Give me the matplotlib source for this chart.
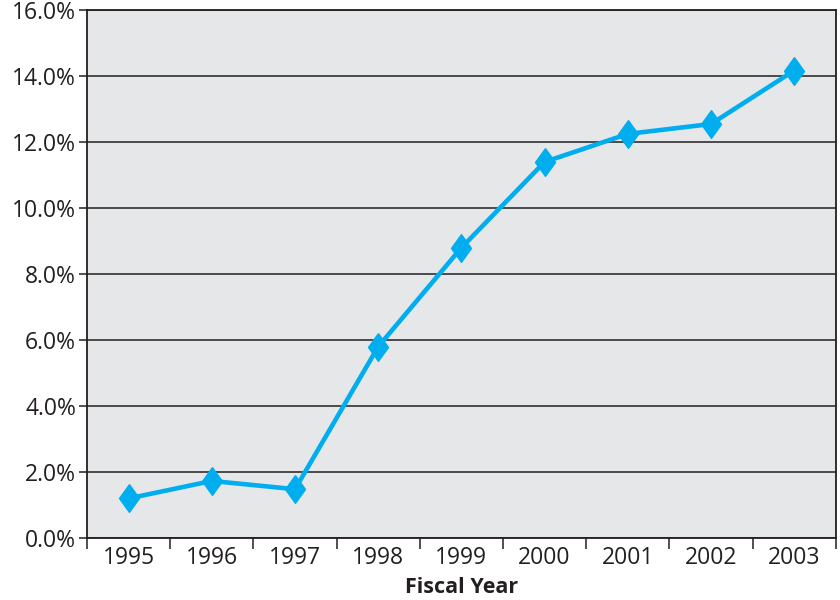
import matplotlib
matplotlib.use("Agg")
import matplotlib.pyplot as plt
from matplotlib.ticker import FixedLocator, FuncFormatter

# data
years = ["1995", "1996", "1997", "1998", "1999", "2000", "2001", "2002", "2003"]
rates = [1.2, 1.73, 1.48, 5.8, 8.8, 11.4, 12.25, 12.55, 14.17]
yticks = [0, 2, 4, 6, 8, 10, 12, 14, 16]

plt.rcParams['font.family'] = ['Open Sans', 'DejaVu Sans']
ink = '#231f20'

fig = plt.figure(figsize=(8.4, 6), dpi=100)
ax = fig.add_axes([0.1036, 0.1033, 0.8914, 0.8797])
ax.set_facecolor('#e6e7e9')

x = list(range(len(years)))
diamond = [(0, 1), (0.72, 0), (0, -1), (-0.72, 0), (0, 1)]
ax.plot(x, rates, color='#00aeef', lw=3.3, marker=diamond, ms=20,
        mec='#00aeef', mfc='#00aeef', zorder=3, clip_on=False)

ax.set_xlim(-0.5, len(years) - 0.5)
ax.set_ylim(0, 16)
ax.set_yticks(yticks)
ax.yaxis.set_major_formatter(FuncFormatter(lambda v, p: f"{v:.1f}%"))
ax.yaxis.grid(True, color=ink, lw=1.1)
ax.set_axisbelow(True)

ax.set_xticks(x)
ax.set_xticklabels(years)
ax.tick_params(axis='x', which='major', length=0, labelsize=16.5, pad=6, colors=ink)
ax.xaxis.set_minor_locator(FixedLocator([i - 0.5 for i in range(len(years) + 1)]))
ax.tick_params(axis='x', which='minor', length=8, width=1.1, color=ink, direction='out')
ax.tick_params(axis='y', length=6, width=1.1, labelsize=16.5, pad=2, colors=ink)

for s in ax.spines.values():
    s.set_color(ink)
    s.set_linewidth(1.3)

ax.set_xlabel("Fiscal Year", fontsize=15.5, fontweight='bold', color=ink, labelpad=5)

fig.savefig("out.png", dpi=100, facecolor='white')
